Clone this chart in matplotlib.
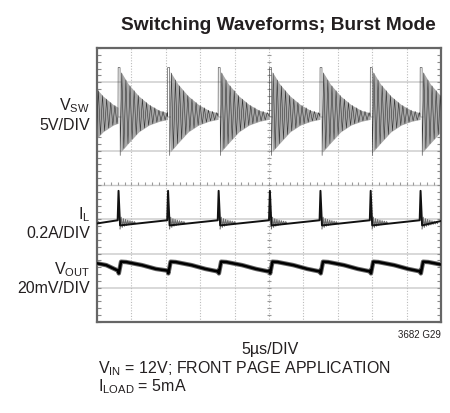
import numpy as np
import matplotlib
matplotlib.use("Agg")
from matplotlib import pyplot as plt
from matplotlib.ticker import MultipleLocator

FONT = 'Liberation Sans'
plt.rcParams['font.family'] = [FONT, 'DejaVu Sans']
plt.rcParams['mathtext.fontset'] = 'custom'
plt.rcParams['mathtext.rm'] = FONT
plt.rcParams['mathtext.it'] = FONT + ':italic'
plt.rcParams['mathtext.bf'] = FONT + ':bold'

# scope screen: 5us/DIV over 10 divisions, vertical in divisions (0 = centre)
T_END = 50.0

# start of each switching burst, us
burst_t = [-2.15, 3.05, 10.25, 17.6, 25.05, 32.4, 39.7, 46.95]

# VSW (trace centre +2 div): ring envelope after a burst starts
vsw_centre = 2.0
vsw_env_t = [0.0, 0.2, 1.5, 3.0, 4.5, 6.0, 7.4]
vsw_env_hi = [1.43, 1.38, 0.95, 0.60, 0.35, 0.18, 0.10]
vsw_env_lo = [1.14, 1.08, 0.78, 0.45, 0.25, 0.14, 0.08]
vsw_half_period = 0.3

# IL: baseline, spike peak and the small ring that follows it
il_base = -1.03
il_peak = -0.17
il_ring_t = [0.3, 0.8, 1.6, 2.6]
il_ring_amp = [0.18, 0.11, 0.06, 0.02]
il_ring_offset = -0.07
il_half_period = 0.16

# VOUT: one cycle of the output ripple, offsets (us) from burst start
vout_t = [0.0, 0.12, 0.45, 1.2, 3.5, 5.5, 7.2]
vout_v = [-2.50, -2.58, -2.24, -2.25, -2.34, -2.45, -2.52]


def next_start(i):
    return burst_t[i + 1] if i + 1 < len(burst_t) else T_END + 0.5


def vsw_trace():
    ts, vs, fills = [], [], []
    for i, b in enumerate(burst_t):
        nb = next_start(i)
        hi0, lo0 = vsw_env_hi[0], vsw_env_lo[0]
        # first slow edge, then the ringing
        ts += [b, b + 0.02, b + 0.3, b + 0.32]
        vs += [vsw_centre, vsw_centre + hi0, vsw_centre + hi0, vsw_centre - lo0]
        tk = np.arange(b + 0.55, nb, vsw_half_period)
        hi = np.interp(tk - b, vsw_env_t, vsw_env_hi)
        lo = np.interp(tk - b, vsw_env_t, vsw_env_lo)
        sign = np.where(np.arange(len(tk)) % 2 == 0, 1, -1)
        ts += list(tk)
        vs += list(np.where(sign > 0, vsw_centre + hi, vsw_centre - lo))
        tf = np.linspace(b + 0.4, nb, 80)
        fills.append((tf,
                      vsw_centre - np.interp(tf - b, vsw_env_t, vsw_env_lo),
                      vsw_centre + np.interp(tf - b, vsw_env_t, vsw_env_hi)))
    return np.array(ts), np.array(vs), fills


def il_trace():
    ts, vs, rings = [], [], []
    for i, b in enumerate(burst_t):
        nb = next_start(i)
        ts += [b - 0.05, b + 0.08, b + 0.3, nb - 0.05]
        vs += [il_base, il_peak, il_base - 0.15, il_base]
        tk = np.arange(b + 0.3, b + il_ring_t[-1], il_half_period)
        amp = np.interp(tk - b, il_ring_t, il_ring_amp)
        sign = np.where(np.arange(len(tk)) % 2 == 0, -1, 1)
        rings.append((tk, il_base + il_ring_offset + sign * amp))
    order = np.argsort(ts, kind='stable')
    return np.array(ts)[order], np.array(vs)[order], rings


def vout_trace():
    ts, vs = [], []
    for i, b in enumerate(burst_t):
        nb = next_start(i)
        for dt, v in zip(vout_t, vout_v):
            if b + dt < nb:
                ts.append(b + dt)
                vs.append(v)
    return np.array(ts), np.array(vs)


fig = plt.figure(figsize=(4.5, 4.13), dpi=100)
ax = fig.add_axes([97 / 450, 1 - 322 / 413, 344 / 450, 274 / 413])
ax.set_xlim(0, T_END)
ax.set_ylim(-4, 4)

# graticule
for y in range(-3, 4):
    if y != 0:
        ax.axhline(y, color='#d6d6d6', lw=1.3, zorder=1)
for x in range(5, 50, 5):
    ax.axvline(x, color='#bcbcbc', lw=0.8, ls=(0, (1, 1.5)), zorder=1)
ax.axhline(0, color='#c8c8c8', lw=1.0, zorder=1)
ax.vlines(np.arange(1, 50, 1), 0, 0.1, color='#9a9a9a', lw=0.8, zorder=1)
ax.hlines(np.arange(-3.8, 4, 0.2), 24.7, 25.3, color='#9a9a9a', lw=0.8, zorder=1)

t_sw, v_sw, sw_fill = vsw_trace()
for tf, lo, hi in sw_fill:
    ax.fill_between(tf, lo, hi, color='#a8a8a8', lw=0, zorder=2)
ax.plot(t_sw, v_sw, color='#333333', lw=0.4, zorder=3)

t_il, v_il, il_rings = il_trace()
for tk, vk in il_rings:
    ax.plot(tk, vk, color='#6e6e6e', lw=0.8, zorder=3)
ax.plot(t_il, v_il, color='#111111', lw=1.4, zorder=4)

t_out, v_out = vout_trace()
ax.plot(t_out, v_out, color='#666666', lw=3.2, zorder=3)
ax.plot(t_out, v_out, color='#000000', lw=1.8, zorder=4)

ax.set_xticks([])
ax.set_yticks([])
ax.yaxis.set_minor_locator(MultipleLocator(0.2))
ax.tick_params(which='minor', left=True, right=True, direction='in',
               length=3, width=0.8, color='#8a8a8a')
for s in ax.spines.values():
    s.set_color('#666666')
    s.set_linewidth(1.6)

ink = '#231f20'
fs = 11.5


def px(x, y):
    return x / 450, 1 - y / 413


fig.text(*px(436, 29.5), 'Switching Waveforms; Burst Mode', ha='right',
         va='baseline', fontsize=13.8, fontweight='bold', color=ink)
fig.text(*px(90, 110), r'V$_{\rm SW}$', ha='right', va='baseline', fontsize=fs, color=ink)
fig.text(*px(90, 130), '5V/DIV', ha='right', va='baseline', fontsize=fs, color=ink)
fig.text(*px(90, 219), r'I$_{\rm L}$', ha='right', va='baseline', fontsize=fs, color=ink)
fig.text(*px(90, 238), '0.2A/DIV', ha='right', va='baseline', fontsize=fs, color=ink)
fig.text(*px(90, 274), r'V$_{\rm OUT}$', ha='right', va='baseline', fontsize=fs, color=ink)
fig.text(*px(90, 293), '20mV/DIV', ha='right', va='baseline', fontsize=fs, color=ink)
fig.text(*px(270, 354), '5µs/DIV', ha='center', va='baseline', fontsize=fs, color=ink)
fig.text(*px(441, 338), '3682 G29', ha='right', va='baseline', fontsize=7, color=ink)
fig.text(*px(98, 373), r'V$_{\rm IN}$ = 12V; FRONT PAGE APPLICATION', ha='left',
         va='baseline', fontsize=fs, color=ink)
fig.text(*px(98, 391), r'I$_{\rm LOAD}$ = 5mA', ha='left', va='baseline',
         fontsize=fs, color=ink)

fig.savefig('out.png', dpi=100)
